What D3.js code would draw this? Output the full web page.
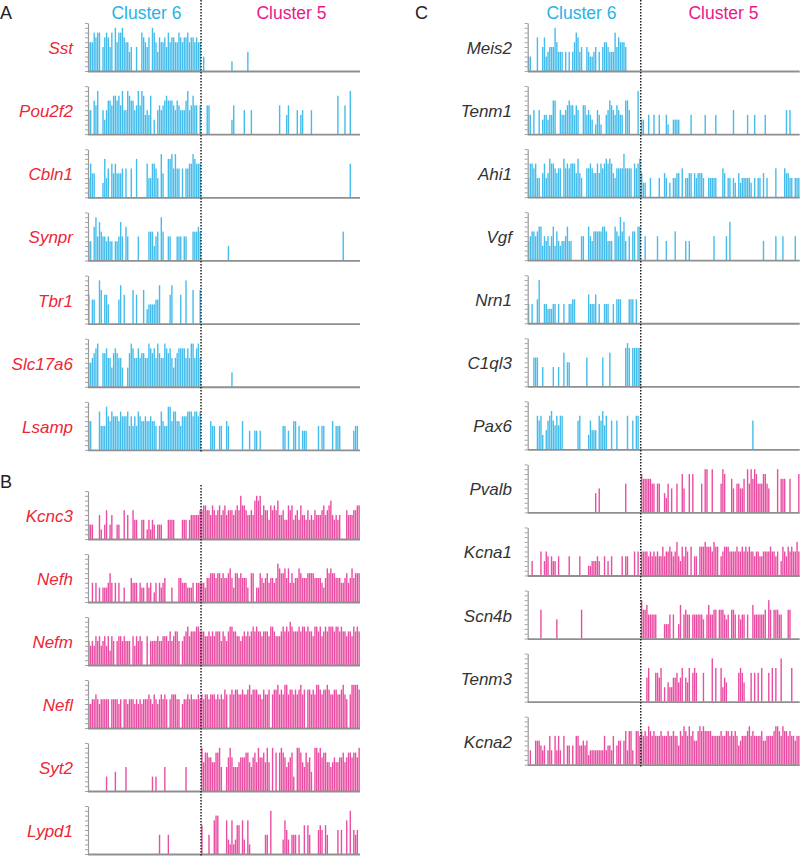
<!DOCTYPE html>
<html><head><meta charset="utf-8">
<script src="https://cdn.jsdelivr.net/npm/d3@7"></script>
<style>body{margin:0;background:#fff}</style>
</head><body>
<svg id="chart" width="800" height="856"></svg>
<script>
// ---- data: per-cell expression levels (0-10 scale), one char per cell ----
// cluster 6 = 64 cells, cluster 5 = 90 cells
const clusterNames = ["Cluster 6", "Cluster 5"];
const genesA = ["Sst", "Pou2f2", "Cbln1", "Synpr", "Tbr1", "Slc17a6", "Lsamp"];
const c6A = [
 "6668788057 8758096889 7664500500 8765709864 7667586776 6876778677 6766",
 "5507690053 5776887869 5598775696 9845480305 6567877765 7655579568 6606",
 "4755000038 4607575556 0600600800 0007447764 0950088969 6606066779 8777",
 "4407958655 4544044585 0750000050 0000666356 0960055000 5550550006 6676",
 "6055009706 6400000580 6000070600 0703444455 8000006800 0060090007 0007",
 "5567890077 8664787664 0047986686 7766987869 7669878646 7888868699 6896",
 "6600008555 9768777687 7785757587 6676676650 5865599688 6657778887 8878"
];
const c5A = [
 "0300000000 0000000200 0000004000 0000000000 0000000000 0000000000 0000000000 0000000000 0000000000",
 "0006600000 0000000360 0000500050 0000000000 0000600046 0000504500 0050000000 0000000800 0600900000",
 "0000000000 0000000000 0000000000 0000000000 0000000000 0000000000 0000000000 0000000000 0000700000",
 "0000000000 0000030000 0000000000 0000000000 0000000000 0000000000 0000000000 0000000000 6000000000",
 "0000000000 0000000000 0000000000 0000000000 0000000000 0000000000 0000000000 0000000000 0000000000",
 "0000000000 0000000300 0000000000 0000000000 0000000000 0000000000 0000000000 0000000000 0000000000",
 "0000065500 5500650000 0006000400 4404000000 0000005504 0066050444 0000005055 0000605550 0000004550"
];
const genesB = ["Kcnc3", "Nefh", "Nefm", "Nefl", "Syt2", "Lypd1"];
const c6B = [
 "3330005203 6035003300 6050064400 4402424303 3300044440 0004440455 5556",
 "0040403033 3464040400 3000544404 3304340240 4345000300 0554443334 0444",
 "5454656456 4636505665 6555064656 5006055556 5566657567 7505678677 7887",
 "5566765666 6606666560 6656665656 5666765765 6767606777 6605667676 6676",
 "0000000000 3000040000 0500000000 0000003030 0005000000 0000050000 0000",
 "0000000000 0000000000 0000000000 0000000000 4000040000 0000000000 0000"
];
const c5B = [
 "6776657656 7567566656 7697765565 8989576647 6768556447 6745647554 6454655567 5678545450 0065556677",
 "4435566656 6565567536 6565553066 0336545645 5458766757 4645576555 6666555543 5767665554 4564575666",
 "7766767677 7576578877 6656767678 7877677768 8766678787 9877787887 8776887867 8788878878 7767768787",
 "7677677767 6768707878 8778778978 8877687780 7889787997 8878789780 8878799878 8987788778 9760799998",
 "9688776688 9500579755 5677788657 8697786960 9080898756 7830998658 6740998978 8665676677 8678878879",
 "6000400788 0000732723 6607307200 0000004409 0000003753 0444040060 6400005650 6400000505 0070905450"
];
const genesC = ["Meis2", "Tenm1", "Ahi1", "Vgf", "Nrn1", "C1ql3", "Pax6", "Pvalb", "Kcna1", "Scn4b", "Tenm3", "Kcna2"];
const markerC = [6, 6, 6, 6, 6, 6, 6, 5, 5, 5, 5, 5];
const c6C = [
 "3300070057 3455596444 0404046874 5005433450 4056654448 5766650000 0000",
 "4405005034 4344770054 4567664650 0664543025 4200457654 6544077500 0090",
 "4776744057 4587765660 8676777585 4006676557 5767878754 6666966660 7678",
 "4566567735 4535736434 4574400000 5500754666 6677644407 6596840506 6077",
 "4040059004 4333440400 4004455000 0000644460 4004440040 5550000555 0500",
 "0006660040 0000400400 7055000000 0006000000 0060007000 0000089808 8888",
 "0000076730 4678657577 0000000067 0000364440 7685700600 6000007006 0770",
 "0000000000 0000000000 0000000000 0000000040 5000000000 0000060000 0000",
 "0030000503 5404330400 0004000004 0000223334 3004030400 0004044000 5050",
 "0000000600 0000004000 0000000000 6000000000 0000000000 0000000000 0000",
 "0000000000 0000000000 0000000000 0000000000 0000000000 0000000000 0000",
 "0300555434 0363063630 6044040664 4545233333 3336344360 4550573773 0776"
];
const c5C = [
 "0000000000 0000000000 0000000000 0000000000 0000000000 0000000000 0000000000 0000000000 0000000000",
 "3300400400 4000420033 3300000040 0000004000 0040000000 0050000000 4000400000 4000000000 0050500000",
 "5330040000 4005403044 5506044550 5455540044 4440006504 4043053444 4430404405 0400006000 0655440444",
 "0050000005 0000400006 0000040400 0000000000 0500000050 8000000000 0000000004 0000005000 5000000500",
 "0000000000 0000000000 0000000000 0000000000 0000000000 0000000000 0000000000 0000000000 0000000000",
 "0000000000 0000000000 0000000000 0000000000 0000000000 0000000000 0000000000 0000000000 0000000000",
 "0000000000 0000000000 0000000000 0000000000 0000000000 0000000000 0006000000 0000000000 0000000000",
 "8777776606 6004360500 6008500808 0000609900 9000069800 0750665570 9697986668 8650000907 7700700008",
 "5555454545 4464556545 7436465060 4406667666 5766045666 5555655656 5655455445 5556554503 6546565575",
 "8667555550 0003335050 0370565505 5555540575 5660666545 0665054550 5007555555 6086066655 0006600000",
 "0005700066 5703043355 6457054706 7600060000 9070073540 0000067640 0060606070 0060707009 0000070000",
 "7676876766 6766676676 6476876867 5578787777 6666676677 6767645666 7867666675 5666678876 8776766566"
];

// ---- drawing ----
const N6 = 64, N5 = 90, N = N6 + N5;
const svg = d3.select("#chart");
const BLUE = "#45bdec", PINK = "#ea4ea3";
const COL6 = "#27b4e5", COL5 = "#e8198b";
const PLOT_H = 48;
const problems = [];

function decode(s, n, tag) {
  const t = s.replace(/\s+/g, "");
  if (t.length !== n) problems.push(tag + " len " + t.length);
  return Array.from(t).map(ch => +ch);
}

function drawPanel(x0, x1, baseline, gene, s6, s5, barColor, labelColor, labelX) {
  const vals = decode(s6, N6, gene + " c6").concat(decode(s5, N5, gene + " c5"));
  const x = d3.scaleBand().domain(d3.range(N)).range([x0, x1]);
  const y = d3.scaleLinear().domain([0, 10]).range([baseline, baseline - PLOT_H]);
  const g = svg.append("g");
  const bw = 1.4;
  g.selectAll("rect").data(vals.map((v, i) => ({i, v})).filter(d => d.v > 0))
    .enter().append("rect")
    .attr("x", d => x(d.i) + (x.bandwidth() - bw) / 2)
    .attr("width", bw)
    .attr("y", d => y(d.v))
    .attr("height", d => baseline - y(d.v))
    .attr("fill", barColor);
  const ax = g.append("g").attr("transform", `translate(${x0},0)`)
    .call(d3.axisLeft(y).ticks(10).tickSize(3).tickSizeOuter(0).tickFormat(""));
  ax.select(".domain").attr("stroke", "#9a9a9a").attr("stroke-width", 1.2);
  ax.selectAll(".tick line").attr("stroke", "#9a9a9a").attr("stroke-width", 0.9);
  g.append("line").attr("x1", x0).attr("x2", x1).attr("y1", baseline + 0.5).attr("y2", baseline + 0.5)
    .attr("stroke", "#8f8f8f").attr("stroke-width", 1.8);
  g.append("text").attr("x", labelX).attr("y", baseline - 17)
    .attr("text-anchor", "end").attr("font-family", "Liberation Sans, Arial, sans-serif")
    .attr("font-style", "italic").attr("font-size", 17).attr("fill", labelColor).text(gene);
}

const STEP = 63.15;
const LX0 = 88, LX1 = 360, RX0 = 527.7, RX1 = 799.7;
const LDIV = LX0 + (LX1 - LX0) * N6 / N, RDIV = RX0 + (RX1 - RX0) * N6 / N;

genesA.forEach((gname, k) => drawPanel(LX0, LX1, 71 + k * STEP, gname, c6A[k], c5A[k], BLUE, "#ec2736", 73));
genesB.forEach((gname, k) => drawPanel(LX0, LX1, 539 + k * 63.0, gname, c6B[k], c5B[k], PINK, "#ec2736", 73));
genesC.forEach((gname, k) => drawPanel(RX0, RX1, 71 + k * 63.06, gname, c6C[k], c5C[k], markerC[k] === 6 ? BLUE : PINK, "#333333", 512));

// dashed cluster dividers
function vdash(xv, y0, y1) {
  svg.append("line").attr("x1", xv).attr("x2", xv).attr("y1", y0).attr("y2", y1)
    .attr("stroke", "#222").attr("stroke-width", 1.5).attr("stroke-dasharray", "1.5,1.5");
}
vdash(LDIV, 0, 452);
vdash(LDIV, 485, 856);
vdash(RDIV, 0, 768);

// headers
const font = "Liberation Sans, Arial, sans-serif";
function txt(xv, yv, s, size, fill, anchor) {
  svg.append("text").attr("x", xv).attr("y", yv).attr("font-family", font).attr("font-size", size)
    .attr("fill", fill).attr("text-anchor", anchor || "middle").text(s);
}
txt(146.5, 19, clusterNames[0], 17.5, COL6);
txt(291.5, 19, clusterNames[1], 17.5, COL5);
txt(581.5, 19, clusterNames[0], 17.5, COL6);
txt(723.5, 19, clusterNames[1], 17.5, COL5);
txt(0, 19, "A", 18, "#222", "start");
txt(0, 488, "B", 18, "#222", "start");
txt(415, 19, "C", 18, "#222", "start");

if (problems.length) setTimeout(() => { throw new Error("data length: " + problems.join("; ")); }, 0);
</script>
</body></html>
